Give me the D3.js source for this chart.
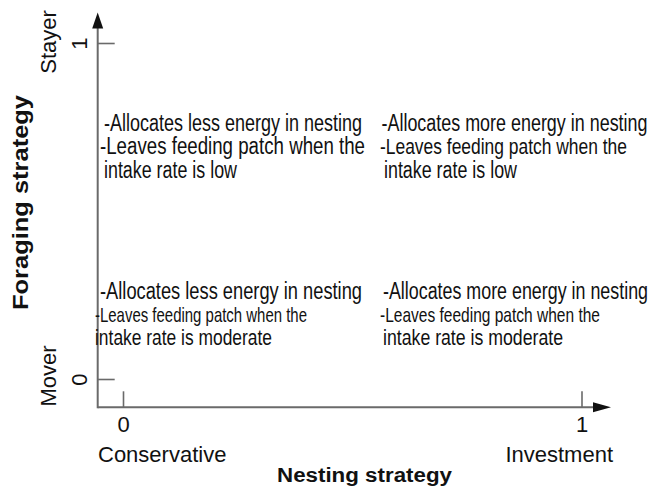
<!DOCTYPE html>
<html>
<head>
<meta charset="utf-8">
<script src="https://cdn.jsdelivr.net/npm/d3@7"></script>
<style>
  html, body { margin: 0; padding: 0; background: #fff; }
  svg { display: block; }
</style>
</head>
<body>
<svg id="chart" width="651" height="490"></svg>
<script>
// ---- data ----
const nestingTicks = [0, 1];
const nestingTickLabels = ["0", "1"];
const nestingCategories = ["Conservative", "Investment"];
const foragingTicks = [0, 1];
const foragingTickLabels = ["0", "1"];
const foragingCategories = ["Mover", "Stayer"];
const xTitle = "Nesting strategy";
const yTitle = "Foraging strategy";

const quadNesting = [0, 1, 0, 1];
const quadForaging = [1, 1, 0, 0];
const quadAllocation = [
  "-Allocates less energy in nesting",
  "-Allocates more energy in nesting",
  "-Allocates less energy in nesting",
  "-Allocates more energy in nesting"
];
const quadLeaves = [
  "-Leaves feeding patch when the",
  "-Leaves feeding patch when the",
  "-Leaves feeding patch when the",
  "-Leaves feeding patch when the"
];
const quadIntake = [
  "intake rate is low",
  "intake rate is low",
  "intake rate is moderate",
  "intake rate is moderate"
];

// ---- layout / style ----
const axisColor = "#6a6a6a";
const textColor = "#111";
const narrowFont = "'Liberation Sans Narrow','Arial Narrow','Liberation Sans',Arial,sans-serif";
const font = "'Liberation Sans',Arial,Helvetica,sans-serif";
const originX = 97.7, originY = 407.3;
// per quadrant, per line: [dx from tick, dy from tick, font size, text length]
const lineStyle = [
  [[-19, 88, 23, 258], [-23, 111, 23, 265], [-19, 134.5, 23, 133]],
  [[-200, 88, 23, 266], [-201.5, 111, 22, 247], [-197.5, 134.5, 23, 133]],
  [[-23, -80.5, 23.5, 262], [-28, -57, 21, 212], [-28, -34, 22, 177]],
  [[-198.5, -80.5, 23.5, 265], [-201.5, -57.5, 21, 220], [-198.5, -34.5, 22, 180]]
];

const svg = d3.select("#chart");
const x = d3.scaleLinear().domain([0, 1]).range([123, 581.5]);
const y = d3.scaleLinear().domain([0, 1]).range([379, 43]);

// axis lines
svg.append("line").attr("x1", originX).attr("x2", 595).attr("y1", originY).attr("y2", originY)
  .attr("stroke", axisColor).attr("stroke-width", 2);
svg.append("line").attr("x1", originX).attr("x2", originX).attr("y1", 27).attr("y2", originY + 1)
  .attr("stroke", axisColor).attr("stroke-width", 2);
// arrowheads
svg.append("path").attr("d", `M${originX},12.5 L${originX - 5.5},28.5 L${originX + 5.5},28.5 Z`).attr("fill", "#111");
svg.append("path").attr("d", `M611,${originY} L593,${originY - 5} L593,${originY + 5} Z`).attr("fill", "#111");

// x axis ticks
const gx = svg.append("g").attr("transform", `translate(0,${originY})`)
  .call(d3.axisBottom(x).tickValues(nestingTicks).tickFormat((d, i) => nestingTickLabels[i])
    .tickSize(-16).tickPadding(9.5));
gx.select(".domain").remove();
gx.selectAll(".tick line").attr("stroke", axisColor).attr("stroke-width", 1.6);
gx.selectAll(".tick text").attr("font-family", font).attr("font-size", 22).attr("fill", textColor);

// y axis ticks
const gy = svg.append("g").attr("transform", `translate(${originX},0)`)
  .call(d3.axisLeft(y).tickValues(foragingTicks).tickFormat((d, i) => foragingTickLabels[i])
    .tickSize(-17));
gy.select(".domain").remove();
gy.selectAll(".tick line").attr("stroke", axisColor).attr("stroke-width", 1.6);
gy.selectAll(".tick text")
  .attr("font-family", font).attr("font-size", 22).attr("fill", textColor)
  .attr("text-anchor", "middle").attr("x", 0).attr("y", -11).attr("dy", 0)
  .attr("transform", "rotate(-90)");

// x categories
svg.selectAll(".xcat").data(nestingCategories).enter().append("text")
  .attr("class", "xcat")
  .attr("x", (d, i) => i === 0 ? x(nestingTicks[i]) - 25 : x(nestingTicks[i]) + 31.5)
  .attr("y", 461.5)
  .attr("text-anchor", (d, i) => i === 0 ? "start" : "end")
  .attr("font-family", font).attr("font-size", 22).attr("fill", textColor)
  .text(d => d);

// y categories
svg.selectAll(".ycat").data(foragingCategories).enter().append("text")
  .attr("class", "ycat")
  .attr("transform", (d, i) => `translate(56,${y(foragingTicks[i]) + (i === 0 ? -3 : -1)}) rotate(-90)`)
  .attr("text-anchor", "middle")
  .attr("font-family", font).attr("font-size", 22).attr("fill", textColor)
  .text(d => d);

// axis titles
svg.append("text").attr("x", 364.5).attr("y", 481.5).attr("text-anchor", "middle")
  .attr("font-family", font).attr("font-weight", "bold").attr("font-size", 20).attr("fill", textColor)
  .attr("textLength", 175).attr("lengthAdjust", "spacingAndGlyphs")
  .text(xTitle);
svg.append("text").attr("transform", "translate(28,202.5) rotate(-90)").attr("text-anchor", "middle")
  .attr("font-family", font).attr("font-weight", "bold").attr("font-size", 22).attr("fill", textColor)
  .attr("textLength", 215).attr("lengthAdjust", "spacingAndGlyphs")
  .text(yTitle);

// quadrant descriptions
quadNesting.forEach((n, q) => {
  const lines = [quadAllocation[q], quadLeaves[q], quadIntake[q]];
  lines.forEach((txt, li) => {
    const [dx, dy, fs, len] = lineStyle[q][li];
    svg.append("text")
      .attr("x", x(n) + dx)
      .attr("y", y(quadForaging[q]) + dy)
      .attr("font-family", narrowFont).attr("font-size", fs).attr("fill", textColor)
      .attr("textLength", len).attr("lengthAdjust", "spacingAndGlyphs")
      .text(txt);
  });
});
</script>
</body>
</html>
